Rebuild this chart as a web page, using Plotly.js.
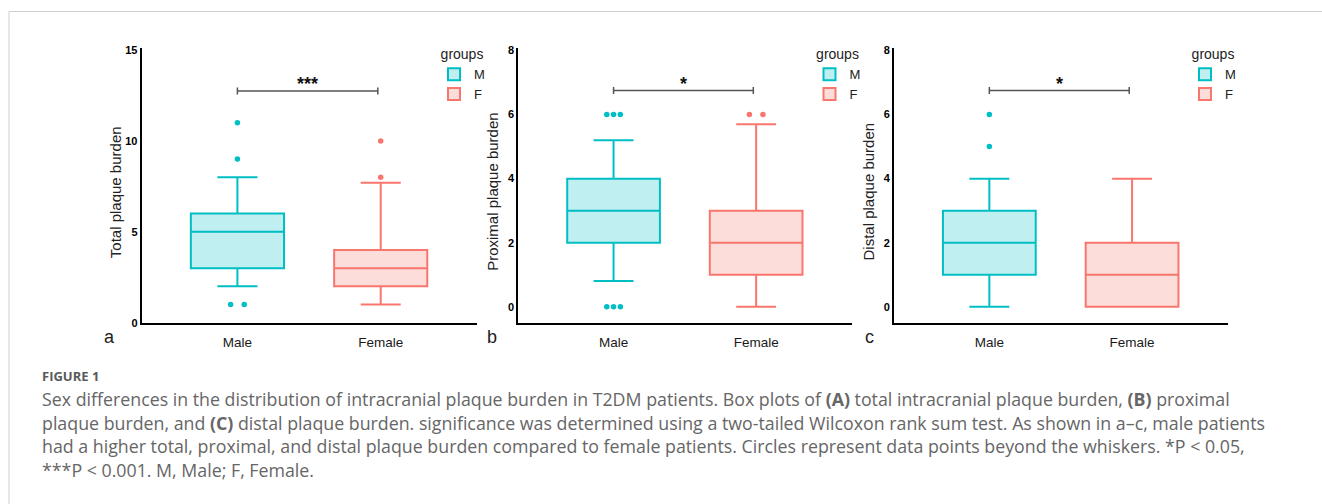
<!DOCTYPE html>
<html>
<head>
<meta charset="utf-8">
<script src="https://cdn.plot.ly/plotly-3.0.1.min.js"></script>
<style>
  html, body { margin: 0; padding: 0; background: #ffffff; }
  #chart { width: 1322px; height: 504px; }
</style>
</head>
<body>
<div id="chart"></div>
<script>
// ---------------- DATA ----------------
const categories = ['Male', 'Female'];
const groupNames = ['M', 'F'];

// (a) total plaque burden: [Male, Female]
const totalQ1 = [3, 2];
const totalMedian = [5, 3];
const totalQ3 = [6, 4];
const totalLowerWhisker = [2, 1];
const totalUpperWhisker = [8, 7.7];
const totalOutliersMale = [1, 1, 9, 11];
const totalOutliersFemale = [8, 10];

// (b) proximal plaque burden
const proximalQ1 = [2, 1];
const proximalMedian = [3, 2];
const proximalQ3 = [4, 3];
const proximalLowerWhisker = [0.8, 0];
const proximalUpperWhisker = [5.2, 5.7];
const proximalOutliersMale = [0, 0, 0, 6, 6, 6];
const proximalOutliersFemale = [6, 6];

// (c) distal plaque burden
const distalQ1 = [1, 0];
const distalMedian = [2, 1];
const distalQ3 = [3, 2];
const distalLowerWhisker = [0, 0];
const distalUpperWhisker = [4, 4];
const distalOutliersMale = [5, 6];
const distalOutliersFemale = [];

// significance brackets
const sigHeights = [12.75, 6.75, 6.75];
const sigLabels = ['***', '*', '*'];

// axis labels / ticks
const yTitles = ['Total plaque burden', 'Proximal plaque burden', 'Distal plaque burden'];
const yTickValsA = [0, 5, 10, 15];
const yTickValsBC = [0, 2, 4, 6, 8];
const panelLetters = ['a', 'b', 'c'];

// ---------------- STYLE / LAYOUT ----------------
const W = 1322, H = 504;
const PX = x => x / W;
const PY = y => 1 - y / H;

const lineColors = ['#00BFC4', '#F8766D'];
const fillColors = ['#BFEFF0', '#FDDDDA'];
const axisFont = 'Arial, "Liberation Sans", sans-serif';
const capFont = '"Open Sans", "Noto Sans", sans-serif';

const panels = [
  { q1: totalQ1, med: totalMedian, q3: totalQ3, lo: totalLowerWhisker, hi: totalUpperWhisker,
    out: [totalOutliersMale, totalOutliersFemale], xDom: [141.7, 476.7], yRange: [0, 15.11], ticks: yTickValsA },
  { q1: proximalQ1, med: proximalMedian, q3: proximalQ3, lo: proximalLowerWhisker, hi: proximalUpperWhisker,
    out: [proximalOutliersMale, proximalOutliersFemale], xDom: [518.3, 851.7], yRange: [-0.5, 8.08], ticks: yTickValsBC },
  { q1: distalQ1, med: distalMedian, q3: distalQ3, lo: distalLowerWhisker, hi: distalUpperWhisker,
    out: [distalOutliersMale, distalOutliersFemale], xDom: [894, 1227.7], yRange: [-0.5, 8.08], ticks: yTickValsBC }
];
const yDom = [PY(322.7), PY(48)];
const legendNames = ['legend', 'legend2', 'legend3'];

// spread tied outliers horizontally around category centre
function dodge(vals, centre, span) {
  const counts = {}, seen = {};
  vals.forEach(v => { counts[v] = (counts[v] || 0) + 1; });
  return vals.map(v => {
    const n = counts[v];
    const i = seen[v] || 0; seen[v] = i + 1;
    return n === 1 ? centre : centre - span / 2 + i * span / (n - 1);
  });
}

const traces = [];
const shapes = [];
const annotations = [];
const layout = {
  width: W, height: H,
  margin: { l: 0, r: 0, t: 0, b: 0 },
  paper_bgcolor: '#ffffff', plot_bgcolor: 'rgba(0,0,0,0)',
  boxmode: 'overlay',
  showlegend: true,
  font: { family: axisFont, color: '#222' }
};

panels.forEach((p, k) => {
  const sfx = k === 0 ? '' : String(k + 1);
  const xa = 'x' + sfx, ya = 'y' + sfx;
  layout['xaxis' + sfx] = {
    domain: [PX(p.xDom[0]), PX(p.xDom[1])], anchor: ya,
    range: [-0.668, 1.67], tickvals: [0, 1], ticktext: categories,
    showline: true, linecolor: '#000', linewidth: 2, ticks: '', ticklabelstandoff: 6,
    showgrid: false, zeroline: false,
    tickfont: { family: axisFont, size: 13.5, color: '#1a1a1a' }, fixedrange: true
  };
  layout['yaxis' + sfx] = {
    domain: yDom, anchor: xa, range: p.yRange, tickvals: p.ticks,
    showline: true, linecolor: '#000', linewidth: 2, ticks: '',
    showgrid: false, zeroline: false,
    tickfont: { family: axisFont, size: 11, color: '#000', weight: 'bold' }, fixedrange: true
  };
  [0, 1].forEach(g => {
    traces.push({
      type: 'box', name: groupNames[g], xaxis: xa, yaxis: ya,
      x: [g], q1: [p.q1[g]], median: [p.med[g]], q3: [p.q3[g]],
      lowerfence: [p.lo[g]], upperfence: [p.hi[g]],
      boxpoints: false, width: 0.65, whiskerwidth: 0.43,
      line: { color: lineColors[g], width: 2 }, fillcolor: fillColors[g],
      legend: legendNames[k], showlegend: true, hoverinfo: 'skip'
    });
    if (p.out[g].length) {
      traces.push({
        type: 'scatter', mode: 'markers', xaxis: xa, yaxis: ya,
        x: dodge(p.out[g], g, 0.095), y: p.out[g],
        marker: { color: lineColors[g], size: 5.5 },
        showlegend: false, hoverinfo: 'skip'
      });
    }
  });
  // significance bracket
  const sy = sigHeights[k];
  shapes.push({ type: 'line', xref: xa, yref: ya, x0: 0, x1: 0.98, y0: sy, y1: sy,
    line: { color: '#555', width: 1.5 } });
  [0, 0.98].forEach(xx => shapes.push({ type: 'line', xref: xa, yref: ya,
    ysizemode: 'pixel', yanchor: sy, x0: xx, x1: xx, y0: -3.5, y1: 3.5,
    line: { color: '#555', width: 1.5 } }));
  annotations.push({ xref: xa, yref: ya, x: 0.49, y: sy, yshift: 7,
    text: '<b>' + sigLabels[k] + '</b>', showarrow: false, xanchor: 'center', yanchor: 'middle',
    font: { family: axisFont, size: 18, color: '#111' } });
  // y title
  annotations.push({ xref: 'paper', yref: 'paper', x: PX(p.xDom[0] - 26.5), y: PY(192),
    text: yTitles[k], textangle: -90, showarrow: false, xanchor: 'center', yanchor: 'middle',
    font: { family: axisFont, size: 15, color: '#222' } });
  // panel letter
  const letterX = [110, 492, 869][k];
  annotations.push({ xref: 'paper', yref: 'paper', x: PX(letterX), y: PY(337),
    text: panelLetters[k], showarrow: false, xanchor: 'center', yanchor: 'middle',
    font: { family: axisFont, size: 18, color: '#222' } });
  // legend
  const legX = [434, 809.5, 1185][k];
  layout[legendNames[k]] = {
    x: PX(legX), y: PY(41), xanchor: 'left', yanchor: 'top',
    xref: 'paper', yref: 'paper', bgcolor: 'rgba(0,0,0,0)',
    title: { text: 'groups', side: 'top center', font: { family: axisFont, size: 14, color: '#222' } },
    font: { family: axisFont, size: 13, color: '#222' },
    itemwidth: 30, tracegroupgap: 0
  };
});

// figure frame lines
shapes.push({ type: 'line', xref: 'paper', yref: 'paper', x0: PX(9), x1: 1, y0: PY(11.5), y1: PY(11.5),
  line: { color: '#cfcfcf', width: 1 } });
shapes.push({ type: 'line', xref: 'paper', yref: 'paper', x0: PX(9), x1: PX(9), y0: PY(11.5), y1: 0,
  line: { color: '#cfcfcf', width: 1 } });

// caption
const captionTitle = 'FIGURE 1';
const captionLines = [
  'Sex differences in the distribution of intracranial plaque burden in T2DM patients. Box plots of <b>(A)</b> total intracranial plaque burden, <b>(B)</b> proximal',
  'plaque burden, and <b>(C)</b> distal plaque burden. significance was determined using a two-tailed Wilcoxon rank sum test. As shown in a\u2013c, male patients',
  'had a higher total, proximal, and distal plaque burden compared to female patients. Circles represent data points beyond the whiskers. *P &lt; 0.05,',
  '***P &lt; 0.001. M, Male; F, Female.'
];
annotations.push({ xref: 'paper', yref: 'paper', x: PX(40), y: PY(376), xanchor: 'left', yanchor: 'middle',
  text: '<b>' + captionTitle + '</b>', showarrow: false,
  font: { family: capFont, size: 13, color: '#5a5a5a' } });
const captionY = [399, 422.5, 446, 469.5];
captionLines.forEach((t, i) => annotations.push({ xref: 'paper', yref: 'paper', x: PX(39.5), y: PY(captionY[i]),
  xanchor: 'left', yanchor: 'middle', text: t, showarrow: false, align: 'left',
  font: { family: capFont, size: 17.8, color: '#666' } }));

layout.shapes = shapes;
layout.annotations = annotations;

Plotly.newPlot('chart', traces, layout, { staticPlot: true, displayModeBar: false });
</script>
</body>
</html>
